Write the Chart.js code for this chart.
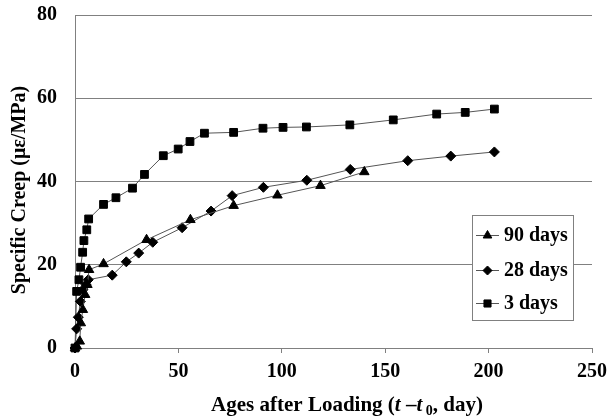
<!DOCTYPE html>
<html>
<head>
<meta charset="utf-8">
<script src="https://cdn.jsdelivr.net/npm/chart.js@4.4.0/dist/chart.umd.min.js"></script>
<style>
  html, body { margin: 0; padding: 0; background: #fff; }
  #wrap { width: 616px; height: 416px; }
</style>
</head>
<body>
<div id="wrap"><canvas id="chart"></canvas></div>
<script>
// values
const days90 = [0, 0.9, 2.3, 2.8, 3.8, 4.9, 6, 6.8, 13.8, 34.6, 55.8, 76.7, 97.9, 118.7, 139.9];
const creep90 = [0, 0.4, 1.6, 6, 9.2, 12.8, 15.2, 18.8, 20.2, 26, 30.8, 34.2, 36.7, 39, 42.3];

const days28 = [0, 0.8, 1.6, 2.6, 3.8, 5.3, 6.4, 18, 24.8, 30.8, 37.6, 51.8, 65.8, 76, 91.1, 112.1, 133.1, 160.9, 181.7, 202.8];
const creep28 = [0, 4.6, 7.4, 11.2, 14, 15.2, 16.4, 17.5, 20.7, 22.8, 25.4, 28.9, 32.9, 36.6, 38.6, 40.3, 42.9, 45, 46.1, 47.1];

const days3 = [0, 0.8, 1.9, 2.7, 3.7, 4.3, 5.7, 6.6, 13.8, 19.8, 27.8, 33.6, 42.7, 49.9, 55.6, 62.6, 76.7, 90.9, 100.6, 111.9, 132.9, 153.9, 174.9, 188.7, 202.8];
const creep3 = [0, 13.6, 16.4, 19.4, 23, 25.8, 28.4, 31, 34.5, 36.1, 38.4, 41.7, 46.2, 47.8, 49.6, 51.6, 51.8, 52.8, 53, 53.1, 53.6, 54.8, 56.2, 56.6, 57.4];

const seriesLabels = ["90 days", "28 days", "3 days"];
const xTicks = [0, 50, 100, 150, 200, 250];
const yTicks = [0, 20, 40, 60, 80];
const yTitleText = "Specific Creep (\u03bc\u03b5/MPa)";

const serif = "'Liberation Serif', 'Times New Roman', serif";
const line_color = "#555555";
const grid_color = "#808080";

function toPoints(xs, ys) {
  return xs.map((x, i) => ({ x: x, y: ys[i] }));
}

function makeSet(label, xs, ys, style, radius) {
  return {
    label: label,
    data: toPoints(xs, ys),
    showLine: true,
    borderColor: line_color,
    borderWidth: 1,
    pointStyle: style,
    pointRadius: radius,
    pointBackgroundColor: "#000",
    pointBorderColor: "#000",
    pointBorderWidth: 1,
    clip: false,
  };
}

const datasets = [
  makeSet(seriesLabels[0], days90, creep90, "triangle", 5.5),
  makeSet(seriesLabels[1], days28, creep28, "rectRot", 5),
  makeSet(seriesLabels[2], days3, creep3, "rect", 5.5),
];

// legend box drawn inside the plot, like the original
const boxLegend = {
  id: "boxLegend",
  afterDatasetsDraw(chart) {
    const ctx = chart.ctx;
    const bx = 472, by = 215, bw = 101, bh = 105;
    const rows = [235, 270, 303];
    ctx.save();
    ctx.fillStyle = "#fff";
    ctx.fillRect(bx, by, bw, bh);
    ctx.strokeStyle = grid_color;
    ctx.lineWidth = 1;
    ctx.strokeRect(bx + 0.5, by + 0.5, bw, bh);
    chart.data.datasets.forEach((ds, i) => {
      const y = rows[i];
      ctx.strokeStyle = line_color;
      ctx.beginPath();
      ctx.moveTo(476, y + 0.5);
      ctx.lineTo(499, y + 0.5);
      ctx.stroke();
      ctx.fillStyle = "#000";
      ctx.strokeStyle = "#000";
      Chart.helpers.drawPoint(ctx, { pointStyle: ds.pointStyle, radius: ds.pointRadius - 0.5, rotation: 0, borderWidth: 1 }, 487.5, y + 0.5);
      ctx.fillStyle = "#000";
      ctx.font = "bold 20px " + serif;
      ctx.textBaseline = "middle";
      ctx.textAlign = "left";
      ctx.fillText(ds.label, 504, y + 1);
    });
    ctx.restore();
  },
};

// axis titles: x with italic t and subscript 0, y rotated and a bit below centre
const axisTitles = {
  id: "axisTitles",
  afterDraw(chart) {
    const ctx = chart.ctx;
    const parts = [
      { t: "Ages after Loading (", f: "bold 21px " + serif, dy: 0 },
      { t: "t", f: "italic bold 21px " + serif, dy: 0 },
      { t: " \u2013", f: "bold 21px " + serif, dy: 0 },
      { t: "t", f: "italic bold 21px " + serif, dy: 0 },
      { t: " 0", f: "bold 14px " + serif, dy: 4 },
      { t: ", day)", f: "bold 21px " + serif, dy: 0 },
    ];
    ctx.save();
    let total = 0;
    parts.forEach((p) => {
      ctx.font = p.f;
      p.w = ctx.measureText(p.t).width;
      total += p.w;
    });
    let x = 347 - total / 2;
    const base = 411;
    ctx.fillStyle = "#000";
    ctx.textBaseline = "alphabetic";
    ctx.textAlign = "left";
    parts.forEach((p) => {
      ctx.font = p.f;
      ctx.fillText(p.t, x, base + p.dy);
      x += p.w;
    });

    ctx.translate(20, 190);
    ctx.rotate(-Math.PI / 2);
    ctx.font = "bold 20px " + serif;
    ctx.textAlign = "center";
    ctx.textBaseline = "middle";
    ctx.fillText(yTitleText, 0, 0);
    ctx.restore();
  },
};

new Chart(document.getElementById("chart"), {
  type: "scatter",
  data: { datasets: datasets },
  plugins: [boxLegend, axisTitles],
  options: {
    responsive: true,
    maintainAspectRatio: false,
    animation: false,
    layout: { padding: { top: 15, right: 24, left: 0, bottom: 0 } },
    plugins: {
      legend: { display: false },
      tooltip: { enabled: false },
    },
    scales: {
      x: {
        type: "linear",
        min: 0,
        max: 250,
        afterBuildTicks: (axis) => {
          axis.ticks = xTicks.map((v) => ({ value: v }));
        },
        afterFit: (axis) => {
          axis.height = 68;
        },
        ticks: {
          color: "#000",
          font: { family: serif, size: 20, weight: "bold" },
          padding: 7,
          maxRotation: 0,
        },
        grid: {
          drawOnChartArea: false,
          drawTicks: true,
          tickLength: 5,
          color: grid_color,
        },
        border: { display: true, color: grid_color },
      },
      y: {
        type: "linear",
        min: 0,
        max: 80,
        afterBuildTicks: (axis) => {
          axis.ticks = yTicks.map((v) => ({ value: v }));
        },
        afterFit: (axis) => {
          axis.width = 75;
          // keep the tick padding from pushing the plot area down
          axis.paddingTop = 0;
          axis.paddingBottom = 0;
        },
        ticks: {
          color: "#000",
          font: { family: serif, size: 20, weight: "bold" },
          padding: 18,
        },
        grid: {
          color: grid_color,
          drawTicks: false,
        },
        border: { display: true, color: grid_color },
      },
    },
  },
});
</script>
</body>
</html>
